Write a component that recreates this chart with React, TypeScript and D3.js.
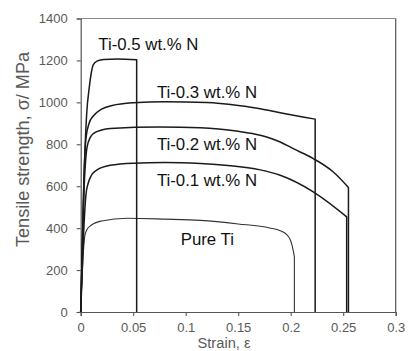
import { useEffect, useRef } from "react";
import * as d3 from "d3";

// strain / stress pairs
const pureTi: [number, number][] = [
    [0, 0], [0.002, 240], [0.004, 365], [0.006, 393], [0.01, 414], [0.02, 434],
    [0.044, 447], [0.08, 443], [0.114, 437], [0.15, 420], [0.18, 401], [0.19, 388],
    [0.196, 370], [0.2, 340], [0.2025, 292], [0.2035, 262],
];
const ti01: [number, number][] = [
    [0, 0], [0.003, 400], [0.005, 560], [0.007, 612], [0.01, 650], [0.015, 676],
    [0.028, 700], [0.05, 710], [0.08, 713], [0.114, 708], [0.14, 699], [0.171, 678],
    [0.19, 652], [0.2215, 573], [0.2533, 454],
];
const ti02: [number, number][] = [
    [0, 0], [0.003, 560], [0.006, 785], [0.009, 832], [0.012, 851], [0.02, 868],
    [0.028, 875], [0.0755, 882], [0.114, 879], [0.15, 862], [0.171, 843], [0.19, 811],
    [0.2025, 779], [0.2215, 732], [0.2406, 668], [0.255, 594],
];
const ti03: [number, number][] = [
    [0, 0], [0.003, 620], [0.005, 830], [0.008, 900], [0.012, 935], [0.02, 968],
    [0.03, 985], [0.05, 998], [0.08, 1003], [0.12, 999], [0.15, 985], [0.171, 970],
    [0.19, 950], [0.2233, 920],
];
const ti05: [number, number][] = [
    [0, 0], [0.003, 620], [0.0057, 946], [0.0082, 1073], [0.0105, 1152], [0.012, 1180],
    [0.016, 1198], [0.022, 1205], [0.035, 1207], [0.0533, 1203],
];

const seriesNames = ["Pure Ti", "Ti-0.1 wt.% N", "Ti-0.2 wt.% N", "Ti-0.3 wt.% N", "Ti-0.5 wt.% N"];
const seriesData = [pureTi, ti01, ti02, ti03, ti05];
// label anchor in data units (strain, stress) at text baseline start
const labelPos: [number, number][] = [
    [0.0953, 318], [0.0726, 600], [0.0726, 772], [0.0726, 1020], [0.0168, 1250],
];
const xTicks = [0, 0.05, 0.1, 0.15, 0.2, 0.25, 0.3];
const yTicks = [0, 200, 400, 600, 800, 1000, 1200, 1400];

const W = 411;
const H = 351;

const App = () => {
    const svgRef = useRef<SVGSVGElement>(null);

    useEffect(() => {
        if (!svgRef.current) return;
        const svg = d3.select(svgRef.current);
        svg.selectAll("*").remove();

        const left = 80.7, right = 395.7, top = 18.5, bottom = 312;
        const x = d3.scaleLinear().domain([0, 0.3]).range([left, right]);
        const y = d3.scaleLinear().domain([0, 1400]).range([bottom, top]);
        const font = "'Liberation Sans', Arial, sans-serif";

        // frame
        svg.append("line").attr("x1", left).attr("x2", right).attr("y1", top).attr("y2", top)
            .attr("stroke", "#8a8a8a").attr("stroke-width", 1.2);
        svg.append("line").attr("x1", right).attr("x2", right).attr("y1", top).attr("y2", bottom)
            .attr("stroke", "#555").attr("stroke-width", 1.2);

        const yAxis = svg.append("g").attr("transform", `translate(${left},0)`)
            .call(d3.axisLeft(y).tickValues(yTicks).tickSize(4).tickPadding(9).tickFormat(d3.format("d")));
        const xAxis = svg.append("g").attr("transform", `translate(0,${bottom})`)
            .call(d3.axisBottom(x).tickValues(xTicks).tickSize(4).tickPadding(7)
                .tickFormat(d => (d === 0 ? "0" : String(+d))));
        [yAxis, xAxis].forEach(a => {
            a.select(".domain").attr("stroke", "#555").attr("stroke-width", 1.2);
            a.selectAll(".tick line").attr("stroke", "#555").attr("stroke-width", 1.1);
            a.selectAll(".tick text").attr("fill", "#595959").attr("font-size", 13).attr("font-family", font);
        });

        const line = d3.line<[number, number]>()
            .x(d => x(d[0]))
            .y(d => y(d[1]))
            .curve(d3.curveMonotoneX);

        seriesData.forEach((pts, i) => {
            const last = pts[pts.length - 1];
            svg.append("path")
                .attr("d", line(pts) + `L${x(last[0])},${y(0)}`)
                .attr("fill", "none")
                .attr("stroke", i === 0 ? "#333" : "#1a1a1a")
                .attr("stroke-width", i === 0 ? 1.1 : 1.5)
                .attr("stroke-linejoin", "round");
        });

        svg.selectAll("text.lbl")
            .data(seriesNames)
            .join("text")
            .attr("class", "lbl")
            .attr("x", (_, i) => x(labelPos[i][0]))
            .attr("y", (_, i) => y(labelPos[i][1]))
            .attr("font-size", 16.8)
            .attr("font-family", font)
            .attr("fill", "#111")
            .text(d => d);

        svg.append("text")
            .attr("transform", `translate(29,${(52 + 247) / 2}) rotate(-90)`)
            .attr("text-anchor", "middle")
            .attr("font-size", 17.5)
            .attr("font-family", font)
            .attr("fill", "#595959")
            .attr("textLength", 195)
            .attr("lengthAdjust", "spacingAndGlyphs")
            .text("Tensile strength, σ/ MPa");

        svg.append("text")
            .attr("x", 224)
            .attr("y", 348)
            .attr("text-anchor", "middle")
            .attr("font-size", 15.5)
            .attr("font-family", font)
            .attr("fill", "#595959")
            .attr("textLength", 53)
            .attr("lengthAdjust", "spacingAndGlyphs")
            .text("Strain, ε");
    }, []);

    return (
        <svg
            ref={svgRef}
            width={W}
            height={H}
            viewBox={`0 0 ${W} ${H}`}
            style={{ position: "absolute", left: 0, top: 0, background: "#fff" }}
        />
    );
};

export default App;
